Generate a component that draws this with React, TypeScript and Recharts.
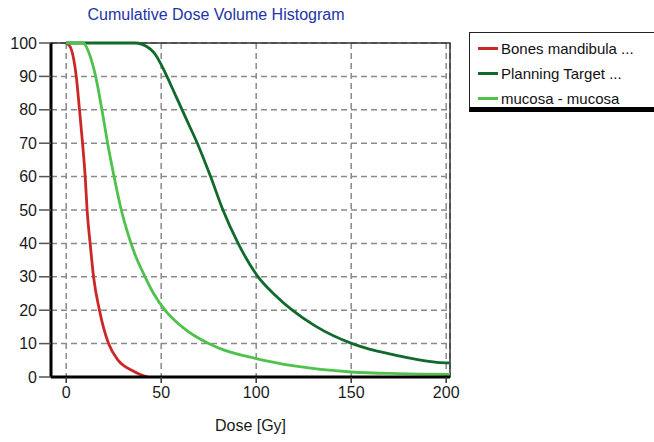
import { LineChart, Line, XAxis, YAxis, CartesianGrid, ReferenceArea } from "recharts";

// dose [Gy] / volume [%] read from the DVH
const bonesDose = [0, 2, 4, 5.3, 7, 8.6, 10, 11, 12.6, 14.4, 17.5, 22.3, 27.4, 34.5, 40, 43];
const bonesVol = [100, 99, 95, 90, 80, 70, 60, 50, 40, 30, 20, 10, 5, 2, 0.5, 0];

const ptvDose = [0, 36, 40, 44, 47, 50, 53, 57, 61, 65, 69, 76, 82.5, 90.5, 101, 110, 119, 131, 150.5, 160, 168, 175, 185, 195, 202];
const ptvVol = [100, 100, 99.6, 98.3, 96.5, 93.5, 90, 85, 80, 75, 70, 60, 50, 40, 30, 24.5, 20, 15.3, 10, 8.3, 7.2, 6.3, 5.2, 4.4, 4.2];

const mucosaDose = [0, 9, 12, 15.5, 18.8, 21.8, 25.2, 29, 33, 36, 41.5, 46, 52, 61, 75, 81, 100, 120, 150, 175, 202];
const mucosaVol = [100, 100, 97, 90, 80, 70, 60, 50, 42, 37, 30, 25, 20, 15, 10, 8.5, 5.5, 3.3, 1.5, 1, 0.8];

const xTicks = [0, 50, 100, 150, 200];
const xMinorTicks = [0, 10, 20, 30, 40, 50, 60, 70, 80, 90, 100, 110, 120, 130, 140, 150, 160, 170, 180, 190, 200];
const yTicks = [0, 10, 20, 30, 40, 50, 60, 70, 80, 90, 100];

const toRows = (xs: number[], ys: number[]) => xs.map((d, i) => ({ dose: d, vol: ys[i] }));

const series = [
  { name: "Bones mandibula ...", color: "#cc2727", data: toRows(bonesDose, bonesVol) },
  { name: "Planning Target ...", color: "#106a2c", data: toRows(ptvDose, ptvVol) },
  { name: "mucosa - mucosa", color: "#4fc24c", data: toRows(mucosaDose, mucosaVol) },
];

const font = "Arial, 'Liberation Sans', sans-serif";

const LegendBox = () => (
  <div
    style={{
      position: "absolute",
      left: 469,
      top: 32,
      width: 260,
      height: 80,
      border: "1px solid #222",
      borderBottom: "5px solid #000",
      background: "#fff",
      fontFamily: font,
      fontSize: 15,
      color: "#111",
      paddingTop: 3,
      boxSizing: "border-box",
    }}
  >
    {series.map((s) => (
      <div key={s.name} style={{ display: "flex", alignItems: "center", height: 25 }}>
        <div style={{ width: 20, height: 3, background: s.color, marginLeft: 8, marginRight: 3 }} />
        <span>{s.name}</span>
      </div>
    ))}
  </div>
);

export default function App() {
  return (
    <div style={{ position: "absolute", left: 0, top: 0, width: 654, height: 442, overflow: "hidden", background: "#fff" }}>
      <div
        style={{
          position: "absolute",
          left: 0,
          width: 432,
          top: 6,
          textAlign: "center",
          fontFamily: font,
          fontSize: 16,
          color: "#2234a6",
        }}
      >
        Cumulative Dose Volume Histogram
      </div>
      <LineChart width={654} height={442} margin={{ top: 43, right: 204, bottom: 35, left: 0 }}>
        <CartesianGrid stroke="#8a8a8a" strokeDasharray="6 4" strokeWidth={1.5} />
        <ReferenceArea x1={-8} x2={202} y1={0} y2={100} fill="none" stroke="#333" strokeWidth={1.5} ifOverflow="visible" />
        <XAxis
          xAxisId="minor"
          type="number"
          dataKey="dose"
          domain={[-8, 202]}
          ticks={xMinorTicks}
          tick={false}
          tickSize={4}
          height={0}
          axisLine={false}
          tickLine={{ stroke: "#333", strokeWidth: 1.5 }}
        />
        <XAxis
          type="number"
          dataKey="dose"
          domain={[-8, 202]}
          ticks={xTicks}
          allowDataOverflow
          height={30}
          tickSize={6}
          tickMargin={4}
          axisLine={{ stroke: "#000", strokeWidth: 3 }}
          tickLine={{ stroke: "#333", strokeWidth: 1.5 }}
          tick={{ fontFamily: font, fontSize: 16, fill: "#1a1a1a" }}
          label={{ value: "Dose [Gy]", position: "insideBottom", offset: -24, fontFamily: font, fontSize: 16, fill: "#1a1a1a" }}
        />
        <YAxis
          type="number"
          domain={[0, 100]}
          ticks={yTicks}
          width={51}
          tickSize={12}
          tickMargin={2}
          axisLine={{ stroke: "#000", strokeWidth: 3 }}
          tickLine={{ stroke: "#555", strokeWidth: 1.5 }}
          tick={{ fontFamily: font, fontSize: 16, fill: "#1a1a1a" }}
        />
        {series.map((s) => (
          <Line
            key={s.name}
            data={s.data}
            dataKey="vol"
            name={s.name}
            type="monotone"
            stroke={s.color}
            strokeWidth={2.8}
            dot={false}
            isAnimationActive={false}
          />
        ))}
      </LineChart>
      <LegendBox />
    </div>
  );
}
